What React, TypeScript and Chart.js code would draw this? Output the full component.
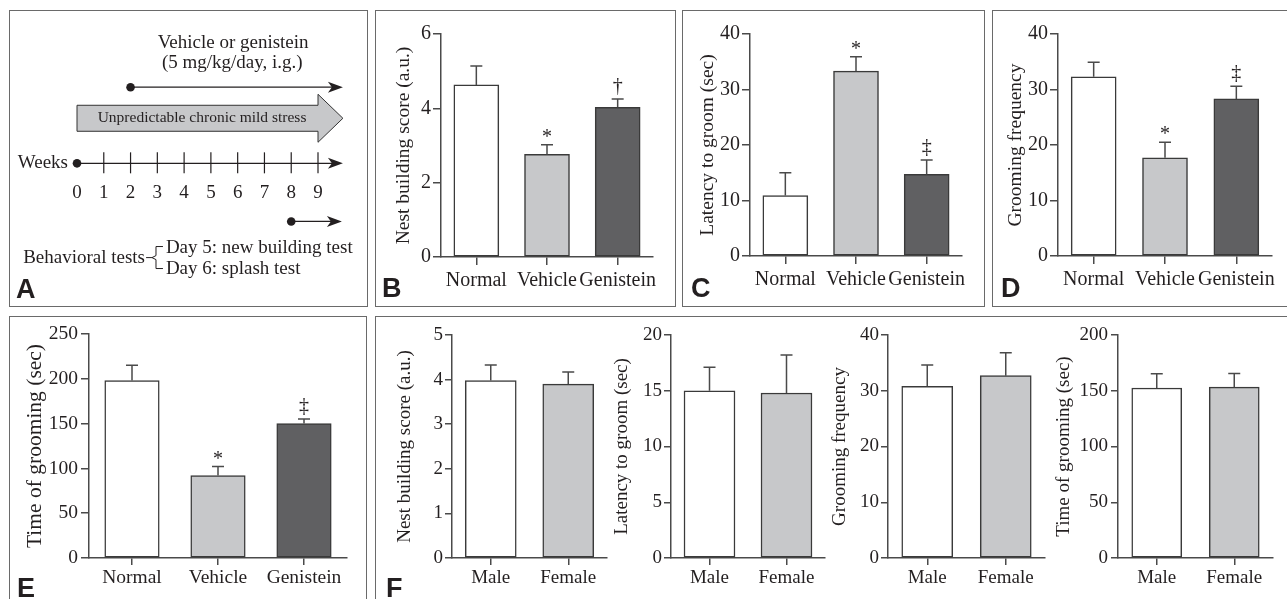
import React, { useEffect, useRef } from 'react';
import { Chart, registerables } from 'chart.js';

Chart.register(...registerables);

const FONT = "'Liberation Serif', 'Times New Roman', serif";
const INK = '#231f20';
const AXIS = '#4a4a4a';

// ---------- data ----------
const groupLabels = ['Normal', 'Vehicle', 'Genistein'];
const sexLabels = ['Male', 'Female'];
const groupColors = ['#ffffff', '#c7c8ca', '#606062'];
const sexColors = ['#ffffff', '#c7c8ca'];

const nestScore = [4.63, 2.76, 4.03];
const nestScoreSem = [0.51, 0.26, 0.22];
const nestScoreSig = ['', '*', '†'];

const latency = [10.9, 33.3, 14.7];
const latencySem = [4.1, 2.6, 2.6];
const latencySig = ['', '*', '‡'];

const groomFreq = [32.3, 17.7, 28.3];
const groomFreqSem = [2.6, 2.8, 2.3];
const groomFreqSig = ['', '*', '‡'];

const groomTime = [198, 92, 150];
const groomTimeSem = [17, 10, 5];
const groomTimeSig = ['', '*', '‡'];

const sexNest = [3.98, 3.9];
const sexNestSem = [0.35, 0.27];
const sexLatency = [15.0, 14.8];
const sexLatencySem = [2.1, 3.4];
const sexFreq = [30.8, 32.7];
const sexFreqSem = [3.8, 4.1];
const sexTime = [152.5, 153.2];
const sexTimeSem = [12.8, 12.2];

// timeline (panel A)
const weekTicks = [0, 1, 2, 3, 4, 5, 6, 7, 8, 9];
const stressStartWeek = 0;
const stressEndWeek = 9;
const treatmentStartWeek = 2;
const testStartWeek = 8;
const arrowEndWeek = 9.93;
const treatmentRow = 0.571;
const stressRow = 0.338;
const weeksRow = 0;
const testRow = -0.436;

// ---------- panel A ----------
function TimelinePanel() {
  const ref = useRef<HTMLCanvasElement>(null);
  useEffect(() => {
    const plugin = {
      id: 'timeline',
      beforeDatasetsDraw(chart: any) {
        const { ctx } = chart;
        const xs = chart.scales.x;
        const ys = chart.scales.y;
        const X = (v: number) => xs.getPixelForValue(v);
        const Y = (v: number) => ys.getPixelForValue(v);
        ctx.save();
        ctx.strokeStyle = INK;
        ctx.fillStyle = INK;
        ctx.lineWidth = 1.3;
        const arrow = (x1: number, x2: number, yy: number) => {
          ctx.beginPath();
          ctx.moveTo(x1, yy);
          ctx.lineTo(x2 - 8, yy);
          ctx.stroke();
          ctx.beginPath();
          ctx.moveTo(x2, yy);
          ctx.lineTo(x2 - 15, yy - 5.5);
          ctx.lineTo(x2 - 11, yy);
          ctx.lineTo(x2 - 15, yy + 5.5);
          ctx.closePath();
          ctx.fill();
        };
        // weeks axis
        const yw = Y(weeksRow);
        arrow(X(0), X(arrowEndWeek), yw);
        ctx.lineWidth = 1.2;
        weekTicks.forEach((w) => {
          if (w === 0) return;
          ctx.beginPath();
          ctx.moveTo(X(w), yw - 11);
          ctx.lineTo(X(w), yw + 10);
          ctx.stroke();
        });
        ctx.lineWidth = 1.3;
        // treatment arrow
        arrow(X(treatmentStartWeek), X(arrowEndWeek), Y(treatmentRow));
        // tests arrow
        arrow(X(testStartWeek), X(arrowEndWeek) - 1, Y(testRow));
        // stress big arrow
        const yc = Y(stressRow);
        const xa = X(stressStartWeek);
        const xb = X(stressEndWeek);
        const xt = X(arrowEndWeek);
        ctx.beginPath();
        ctx.moveTo(xa, yc - 13);
        ctx.lineTo(xb, yc - 13);
        ctx.lineTo(xb, yc - 24);
        ctx.lineTo(xt, yc);
        ctx.lineTo(xb, yc + 24);
        ctx.lineTo(xb, yc + 13);
        ctx.lineTo(xa, yc + 13);
        ctx.closePath();
        ctx.fillStyle = '#c7c8ca';
        ctx.fill();
        ctx.strokeStyle = '#333';
        ctx.lineWidth = 1;
        ctx.stroke();
        // texts
        ctx.fillStyle = INK;
        ctx.textBaseline = 'middle';
        ctx.textAlign = 'center';
        ctx.font = `15.5px ${FONT}`;
        ctx.fillText('Unpredictable chronic mild stress', X(4.67), yc);
        ctx.font = `19px ${FONT}`;
        ctx.fillText('Vehicle or genistein', X(5.83), Y(0.902));
        ctx.fillText('(5 mg/kg/day, i.g.)', X(5.8), Y(0.752));
        ctx.textAlign = 'right';
        ctx.fillText('Weeks', X(0) - 9, yw);
        ctx.fillText('Behavioral tests', X(2.54), Y(-0.707));
        ctx.textAlign = 'left';
        ctx.fillText('Day 5: new building test', X(3.32), Y(-0.632));
        ctx.fillText('Day 6: splash test', X(3.32), Y(-0.789));
        // bracket
        ctx.strokeStyle = INK;
        ctx.lineWidth = 1;
        const bx = X(2.95);
        const bh = X(3.21);
        const bt = Y(-0.624);
        const bb = Y(-0.789);
        const bm = Y(-0.707);
        ctx.beginPath();
        ctx.moveTo(X(2.58), bm);
        ctx.lineTo(bx - 4, bm);
        ctx.moveTo(bh, bt);
        ctx.lineTo(bx, bt);
        ctx.lineTo(bx, bm - 2);
        ctx.lineTo(bx - 4, bm);
        ctx.lineTo(bx, bm + 2);
        ctx.lineTo(bx, bb);
        ctx.lineTo(bh, bb);
        ctx.stroke();
        ctx.restore();
      },
    };
    const chart = new Chart(ref.current as HTMLCanvasElement, {
      type: 'scatter',
      data: {
        datasets: [
          {
            data: [
              { x: 0, y: weeksRow },
              { x: treatmentStartWeek, y: treatmentRow },
              { x: testStartWeek, y: testRow },
            ],
            pointRadius: 4.3,
            pointBackgroundColor: INK,
            pointBorderWidth: 0,
            clip: false,
          } as any,
        ],
      },
      options: {
        animation: false,
        responsive: true,
        maintainAspectRatio: false,
        events: [],
        layout: { padding: { left: 68, right: 50, top: 20, bottom: 77 } },
        plugins: { legend: { display: false }, tooltip: { enabled: false } },
        scales: {
          x: {
            type: 'linear',
            min: 0,
            max: 9,
            position: { y: weeksRow },
            afterBuildTicks: (s: any) => {
              s.ticks = weekTicks.map((v) => ({ value: v }));
            },
            grid: { display: false, drawTicks: false },
            border: { display: false },
            ticks: { font: { size: 19, family: FONT }, color: INK, padding: 18.6 },
          } as any,
          y: { display: false, min: -0.5, max: 1 },
        },
      },
      plugins: [plugin],
    });
    return () => chart.destroy();
  }, []);
  return (
    <div style={{ position: 'absolute', left: 9, top: 10, width: 359, height: 297 }}>
      <canvas ref={ref} />
    </div>
  );
}

// ---------- bar panels ----------
type BarProps = {
  labels: string[];
  values: number[];
  sems: number[];
  sigs?: string[];
  colors: string[];
  yMax: number;
  yStep: number;
  title: string;
  titleSize: number;
  tickSize: number;
  x0: number;
  top: number;
  bottom: number;
  right: number;
  titleX: number;
  barThickness: number;
  yTick: number;
  yPad: number;
  xTick: number;
  xPad: number;
};

function BarPanel(p: BarProps) {
  const ref = useRef<HTMLCanvasElement>(null);
  const lh = p.titleSize * 1.2;
  const L = Math.round(p.titleX - lh / 2);
  const PT = 16;
  const PR = 30;
  const XH = 40;
  const T = p.top - PT;
  const YW = p.x0 - L;
  const W = p.right - L + PR;
  const H = p.bottom - T + XH;
  useEffect(() => {
    const errPlugin = {
      id: 'errBars',
      afterDatasetsDraw(chart: any) {
        const { ctx } = chart;
        const y = chart.scales.y;
        const meta = chart.getDatasetMeta(0);
        ctx.save();
        ctx.strokeStyle = AXIS;
        ctx.lineWidth = 1.5;
        ctx.fillStyle = INK;
        ctx.font = `20px ${FONT}`;
        ctx.textAlign = 'center';
        ctx.textBaseline = 'alphabetic';
        meta.data.forEach((el: any, i: number) => {
          const topPx = y.getPixelForValue(p.values[i] + p.sems[i]);
          const basePx = y.getPixelForValue(p.values[i]);
          ctx.beginPath();
          ctx.moveTo(el.x, basePx);
          ctx.lineTo(el.x, topPx);
          ctx.moveTo(el.x - 6, topPx);
          ctx.lineTo(el.x + 6, topPx);
          ctx.stroke();
          const s = p.sigs ? p.sigs[i] : '';
          if (s) ctx.fillText(s, el.x, topPx - (s === '*' ? 2 : 7));
        });
        ctx.restore();
      },
    };
    const chart = new Chart(ref.current as HTMLCanvasElement, {
      type: 'bar',
      data: {
        labels: p.labels,
        datasets: [
          {
            data: p.values,
            backgroundColor: p.colors,
            borderColor: '#3a3a3a',
            borderWidth: 1.5,
            borderSkipped: false,
            barThickness: p.barThickness,
          },
        ],
      },
      options: {
        animation: false,
        responsive: true,
        maintainAspectRatio: false,
        events: [],
        layout: { padding: { left: 0, top: PT, right: PR, bottom: 0 } },
        plugins: { legend: { display: false }, tooltip: { enabled: false } },
        scales: {
          x: {
            type: 'category',
            offset: true,
            grid: {
              display: true,
              offset: false,
              drawOnChartArea: false,
              drawTicks: true,
              tickLength: p.xTick,
              color: AXIS,
              lineWidth: 1.5,
            },
            border: { display: true, color: AXIS, width: 1.5 },
            ticks: {
              font: { size: p.tickSize, family: FONT },
              color: INK,
              padding: p.xPad,
              maxRotation: 0,
              autoSkip: false,
            },
            afterFit: (s: any) => {
              s.height = XH;
            },
          } as any,
          y: {
            min: 0,
            max: p.yMax,
            grid: {
              display: true,
              drawOnChartArea: false,
              drawTicks: true,
              tickLength: p.yTick,
              color: AXIS,
              lineWidth: 1.5,
            },
            border: { display: true, color: AXIS, width: 1.5 },
            ticks: {
              stepSize: p.yStep,
              font: { size: p.tickSize, family: FONT },
              color: INK,
              padding: p.yPad,
            },
            title: {
              display: true,
              text: p.title,
              font: { size: p.titleSize, family: FONT },
              color: INK,
              padding: 0,
            },
            afterFit: (s: any) => {
              s.width = YW;
            },
          } as any,
        },
      },
      plugins: [errPlugin],
    });
    return () => chart.destroy();
  }, []);
  return (
    <div style={{ position: 'absolute', left: L, top: T, width: W, height: H }}>
      <canvas ref={ref} />
    </div>
  );
}

const boxStyle = (left: number, top: number, width: number, height: number): React.CSSProperties => ({
  position: 'absolute',
  left,
  top,
  width,
  height,
  border: '1.5px solid #6a6a6a',
  boxSizing: 'border-box',
});

const letterStyle = (left: number, top: number): React.CSSProperties => ({
  position: 'absolute',
  left,
  top,
  fontFamily: "'Liberation Sans', Arial, sans-serif",
  fontWeight: 700,
  fontSize: 27,
  lineHeight: '27px',
  color: INK,
});

export default function App() {
  const top3 = { yTick: 8, yPad: 2, xTick: 8, xPad: 4, tickSize: 20, titleSize: 19.5, barThickness: 45 };
  const fRow = { yTick: 7, yPad: 2, xTick: 7, xPad: 1.6, tickSize: 19, titleSize: 19, barThickness: 51, top: 335, bottom: 558 };
  return (
    <div
      style={{
        position: 'absolute',
        left: 0,
        top: 0,
        width: 1287,
        height: 599,
        overflow: 'hidden',
        background: '#fff',
      }}
    >
      <div style={boxStyle(9, 10, 359, 297)} />
      <div style={boxStyle(375, 10, 301, 297)} />
      <div style={boxStyle(682, 10, 303, 297)} />
      <div style={boxStyle(992, 10, 320, 297)} />
      <div style={boxStyle(9, 316, 358, 300)} />
      <div style={boxStyle(375, 316, 930, 300)} />

      <TimelinePanel />

      <BarPanel
        {...top3}
        labels={groupLabels}
        values={nestScore}
        sems={nestScoreSem}
        sigs={nestScoreSig}
        colors={groupColors}
        yMax={6}
        yStep={2}
        title="Nest building score (a.u.)"
        x0={441}
        top={34}
        bottom={257}
        right={653}
        titleX={404}
      />
      <BarPanel
        {...top3}
        labels={groupLabels}
        values={latency}
        sems={latencySem}
        sigs={latencySig}
        colors={groupColors}
        yMax={40}
        yStep={10}
        title="Latency to groom (sec)"
        x0={750}
        top={34}
        bottom={256}
        right={962}
        titleX={708}
      />
      <BarPanel
        {...top3}
        labels={groupLabels}
        values={groomFreq}
        sems={groomFreqSem}
        sigs={groomFreqSig}
        colors={groupColors}
        yMax={40}
        yStep={10}
        title="Grooming frequency"
        x0={1058}
        top={34}
        bottom={256}
        right={1272}
        titleX={1016}
      />
      <BarPanel
        yTick={8}
        yPad={3}
        xTick={7}
        xPad={1.5}
        tickSize={19.5}
        titleSize={21.5}
        barThickness={54.5}
        labels={groupLabels}
        values={groomTime}
        sems={groomTimeSem}
        sigs={groomTimeSig}
        colors={groupColors}
        yMax={250}
        yStep={50}
        title="Time of grooming (sec)"
        x0={89}
        top={334}
        bottom={558}
        right={347}
        titleX={35}
      />
      <BarPanel
        {...fRow}
        labels={sexLabels}
        values={sexNest}
        sems={sexNestSem}
        colors={sexColors}
        yMax={5}
        yStep={1}
        title="Nest building score (a.u.)"
        x0={452}
        right={607}
        titleX={405}
      />
      <BarPanel
        {...fRow}
        labels={sexLabels}
        values={sexLatency}
        sems={sexLatencySem}
        colors={sexColors}
        yMax={20}
        yStep={5}
        title="Latency to groom (sec)"
        x0={671}
        right={825}
        titleX={622}
      />
      <BarPanel
        {...fRow}
        labels={sexLabels}
        values={sexFreq}
        sems={sexFreqSem}
        colors={sexColors}
        yMax={40}
        yStep={10}
        title="Grooming frequency"
        x0={888}
        right={1045}
        titleX={840}
      />
      <BarPanel
        {...fRow}
        yPad={3}
        barThickness={50}
        labels={sexLabels}
        values={sexTime}
        sems={sexTimeSem}
        colors={sexColors}
        yMax={200}
        yStep={50}
        title="Time of grooming (sec)"
        x0={1118}
        right={1273}
        titleX={1064}
      />

      <div style={letterStyle(16, 276)}>A</div>
      <div style={letterStyle(382, 275)}>B</div>
      <div style={letterStyle(691, 275)}>C</div>
      <div style={letterStyle(1001, 275)}>D</div>
      <div style={letterStyle(17, 575)}>E</div>
      <div style={letterStyle(386, 575)}>F</div>
    </div>
  );
}
